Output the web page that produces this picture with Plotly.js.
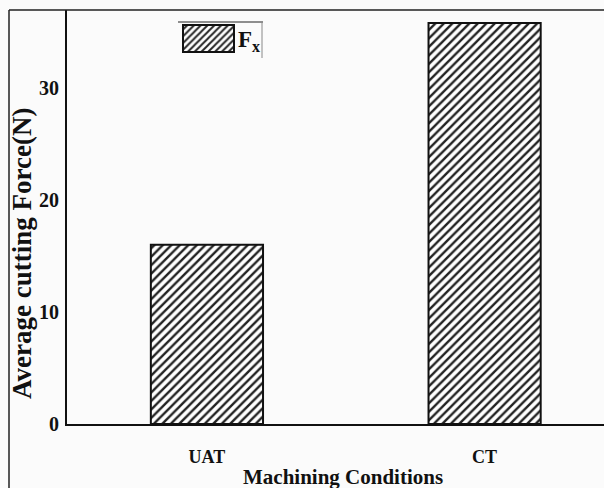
<!DOCTYPE html>
<html>
<head>
<meta charset="utf-8">
<script src="https://cdn.plot.ly/plotly-3.0.1.min.js"></script>
<style>
html,body{margin:0;padding:0;background:#fbfbfb;}
#chart{width:604px;height:488px;}
</style>
</head>
<body>
<div id="chart"></div>
<script>
// Data
var categories = ["UAT", "CT"];
var positions = [0, 1];
var forceFx = [16.0, 35.8];
var seriesName = "F<sub>x</sub>";
var yTickValues = [0, 10, 20, 30];
var xTitle = "Machining Conditions";
var yTitle = "Average cutting Force(N)";

var serif = "Liberation Serif, Times New Roman, serif";
var L = 67, W = 537, T = 10, H = 414; // plot area in px
function px(x) { return (x - L) / W; }
function py(y) { return 1 - (y - T) / H; }

var trace = {
  type: "bar",
  x: positions,
  y: forceFx,
  name: seriesName,
  width: 0.404,
  showlegend: true,
  marker: {
    color: "#ffffff",
    line: {color: "#111111", width: 2},
    pattern: {shape: "/", fgcolor: "#222222", bgcolor: "#ffffff", size: 6, solidity: 0.4}
  }
};

var layout = {
  width: 604,
  height: 488,
  margin: {l: L, r: 0, t: T, b: 488 - T - H, pad: 0},
  paper_bgcolor: "#fbfbfb",
  plot_bgcolor: "#fbfbfb",
  font: {family: serif, color: "#111111"},
  bargap: 0,
  xaxis: {
    range: [-0.504, 1.43],
    tickvals: positions,
    ticktext: categories,
    showline: true,
    linecolor: "#111111",
    linewidth: 2,
    showgrid: false,
    zeroline: false,
    ticks: "",
    ticklabelstandoff: 15,
    tickfont: {family: serif, size: 18, color: "#111111", weight: "bold"},
    automargin: false
  },
  yaxis: {
    range: [0, 36.96],
    tickvals: yTickValues,
    showline: true,
    linecolor: "#111111",
    linewidth: 2,
    showgrid: false,
    zeroline: false,
    ticks: "",
    ticklabelstandoff: 2,
    tickfont: {family: serif, size: 20, color: "#111111", weight: "bold"},
    automargin: false
  },
  showlegend: true,
  legend: {
    x: px(178),
    y: py(17),
    xanchor: "left",
    yanchor: "top",
    bgcolor: "rgba(0,0,0,0)",
    borderwidth: 0,
    font: {family: serif, size: 23, color: "#111111", weight: "bold"},
    itemwidth: 50
  },
  annotations: [
    {text: "<b>" + xTitle + "</b>", xref: "paper", yref: "paper", x: px(343), y: py(477), xanchor: "center", yanchor: "middle", showarrow: false, font: {family: serif, size: 21, color: "#111111"}},
    {text: "<b>" + yTitle + "</b>", xref: "paper", yref: "paper", x: px(22), y: py(254), xanchor: "center", yanchor: "middle", textangle: -90, showarrow: false, font: {family: serif, size: 27, color: "#111111"}}
  ],
  shapes: [
    // outer frame (top and left)
    {type: "line", xref: "paper", yref: "paper", x0: px(9), x1: 1, y0: 1, y1: 1, line: {color: "#222222", width: 1.5}},
    {type: "line", xref: "paper", yref: "paper", x0: px(9), x1: px(9), y0: 1, y1: py(490), line: {color: "#222222", width: 1.5}},
    // legend box top and right edges
    {type: "line", xref: "paper", yref: "paper", x0: px(178), x1: px(263), y0: py(22), y1: py(22), line: {color: "#222222", width: 1.2}},
    {type: "line", xref: "paper", yref: "paper", x0: px(262), x1: px(262), y0: py(22), y1: py(58), line: {color: "#888888", width: 1}}
  ]
};

Plotly.newPlot("chart", [trace], layout, {displayModeBar: false, staticPlot: true}).then(function (gd) {
  // enlarge the legend swatch to match the wide hatched patch of the reference
  var paths = gd.querySelectorAll(".legend .legendpoints path");
  paths.forEach(function (p) { p.setAttribute("d", "M-25,-13.5h51v27h-51z"); });
});
</script>
</body>
</html>
